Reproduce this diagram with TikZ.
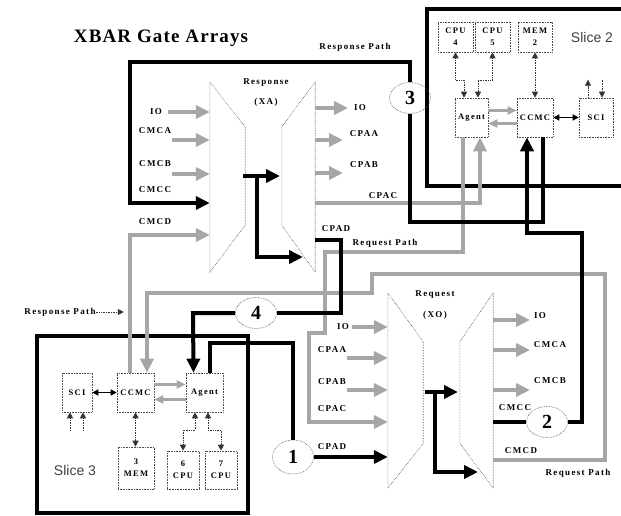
\documentclass[tikz,border=0pt]{standalone}
\usepackage{fontspec}
\setmainfont{Liberation Serif}
\newfontfamily\lblfont[LetterSpace=15]{Liberation Serif}
\newfontfamily\titlefont[LetterSpace=6]{Liberation Serif}
\newfontfamily\slicefont{Liberation Sans}
\usetikzlibrary{positioning,shapes.geometric,arrows.meta}

\begin{document}
\begin{tikzpicture}[x=1pt, y=-1pt, >={Triangle[length=6pt,width=6pt]},
    box/.style={draw=black!70, densely dotted, line width=0.6pt, minimum height=39pt,
                inner sep=0pt, align=center, font=\lblfont\bfseries\fontsize{8.5}{12}\selectfont},
    num/.style={ellipse, draw=black!70, densely dotted, line width=0.6pt, minimum width=41pt,
                minimum height=31pt, inner sep=0pt, font=\bfseries\fontsize{20}{20}\selectfont},
    lbl/.style={font=\lblfont\bfseries\fontsize{9}{9}\selectfont, inner sep=0pt},
    slc/.style={font=\slicefont\fontsize{14}{14}\selectfont, text=black!75},
    half/.style={inner sep=0pt, minimum height=190pt},
    dot/.style={draw=black!70, densely dotted, line width=0.6pt},
    darr/.style={draw=black!80, densely dotted, line width=0.7pt},
    gl/.style={draw=gray!70, line width=4.5pt},
    bl/.style={draw=black, line width=4pt},
    garr/.style={gl, -{Triangle[length=14pt,width=13pt]}},
    barr/.style={bl, -{Triangle[length=14pt,width=13pt]}},
    gsm/.style={draw=gray!70, line width=3pt, -{Triangle[length=9pt,width=8pt]}},
    sarr/.style={draw=black, line width=1.5pt, {Triangle[length=6pt,width=6pt]}-{Triangle[length=6pt,width=6pt]}}]
  \clip (0,0) rectangle (621,516);

  \node[font=\titlefont\bfseries\fontsize{19}{19}\selectfont] (ttl) at (161,38) {XBAR Gate Arrays};
  \node[lbl] (rsp) at (355,47) {Response Path};
  \node[lbl] (rq1) at (385,243) {Request Path};
  \node[lbl] (rq2) at (578,473) {Request Path};
  \node[lbl] (rsp2) at (60,312) {Response Path};

  % slices
  \draw[bl, line width=4.5pt] (427,9) rectangle (640,186);
  \draw[bl, line width=4.5pt] (37,336) rectangle (248,513);
  \node[slc] (s2) at (592,37) {Slice 2};
  \node[slc] (s3) at (75,470) {Slice 3};

  \node[box, minimum width=35pt, minimum height=30pt] (c4) at (455.5,37) {CPU\\4};
  \node[box, minimum width=35pt, minimum height=30pt] (c5) at (492.5,37) {CPU\\5};
  \node[box, minimum width=34pt, minimum height=30pt] (m2) at (535,37) {MEM\\2};
  \node[box, minimum width=33pt] (ag2) at (471.5,117.5) {Agent};
  \node[box, minimum width=36pt] (cc2) at (535,117.5) {CCMC};
  \node[box, minimum width=34pt] (sci2) at (596,117.5) {SCI};

  \node[box, minimum width=30pt] (sci3) at (77,392.5) {SCI};
  \node[box, minimum width=37pt] (cc3) at (135.5,392.5) {CCMC};
  \node[box, minimum width=37pt] (ag3) at (204.5,392.5) {Agent};
  \node[box, minimum width=36pt, minimum height=42pt] (m3) at (136,468) {3\\MEM};
  \node[box, minimum width=32pt, minimum height=38pt] (c6) at (183,470) {6\\CPU};
  \node[box, minimum width=32pt, minimum height=38pt] (c7) at (221,470) {7\\CPU};

  % gate arrays
  \node[half, minimum width=35pt] (xal) at (227.5,177) {};
  \node[half, minimum width=33pt] (xar) at (298.5,177) {};
  \node[half, minimum width=35pt, minimum height=195pt] (xol) at (405.5,390.5) {};
  \node[half, minimum width=33pt, minimum height=195pt] (xor) at (476.5,390.5) {};
  \draw[dot] (xal.north west) -- ([yshift=-45pt]xal.north east) -- ([yshift=47pt]xal.south east) -- (xal.south west) -- cycle;
  \draw[dot] (xar.north east) -- ([yshift=-45pt]xar.north west) -- ([yshift=47pt]xar.south west) -- (xar.south east) -- cycle;
  \draw[dot] (xol.north west) -- ([yshift=-49pt]xol.north east) -- ([yshift=45pt]xol.south east) -- (xol.south west) -- cycle;
  \draw[dot] (xor.north east) -- ([yshift=-49pt]xor.north west) -- ([yshift=45pt]xor.south west) -- (xor.south east) -- cycle;
  \node[lbl] (xan) at (266,83) {Response};
  \node[lbl] (xaid) at (266,102) {(XA)};
  \node[lbl] (xon) at (435,295) {Request};
  \node[lbl] (xoid) at (435,315) {(XO)};

  \node[lbl] (ia1) at (156,112) {IO};
  \node[lbl] (ia2) at (155,131) {CMCA};
  \node[lbl] (ia3) at (155,164) {CMCB};
  \node[lbl] (ia4) at (155,190) {CMCC};
  \node[lbl] (ia5) at (155,222) {CMCD};
  \node[lbl] (oa1) at (360,108) {IO};
  \node[lbl] (oa2) at (364,134) {CPAA};
  \node[lbl] (oa3) at (364,165) {CPAB};
  \node[lbl] (oa4) at (383,196) {CPAC};
  \node[lbl] (oa5) at (336,229) {CPAD};
  \node[lbl] (io1) at (343,327) {IO};
  \node[lbl] (io2) at (332,350) {CPAA};
  \node[lbl] (io3) at (332,382) {CPAB};
  \node[lbl] (io4) at (332,409) {CPAC};
  \node[lbl] (io5) at (332,447) {CPAD};
  \node[lbl] (oo1) at (540,316) {IO};
  \node[lbl] (oo2) at (550,345) {CMCA};
  \node[lbl] (oo3) at (550,381) {CMCB};
  \node[lbl] (oo4) at (515,408) {CMCC};
  \node[lbl] (oo5) at (521,451) {CMCD};

  \node[num] (three) at (410,98) {3};
  \node[num] (two) at (547,422) {2};
  \node[num] (four) at (256,313) {4};
  \node[num, minimum height=34pt] (one) at (293,457) {1};

  % short gray links
  \draw[garr] (168,112) -- (xal.west |- 0,112);
  \draw[garr] (172,140) -- (xal.west |- 0,140);
  \draw[garr] (172,174) -- (xal.west |- 0,174);
  \draw[garr] (xar.east |- 0,108) -- (348,108);
  \draw[garr] (xar.east |- 0,140) -- (343,140);
  \draw[garr] (xar.east |- 0,173) -- (343,173);
  \draw[garr] (352,327) -- (xol.west |- 0,327);
  \draw[garr] (347,358) -- (xol.west |- 0,358);
  \draw[garr] (347,390) -- (xol.west |- 0,390);
  \draw[garr] (xor.east |- 0,320) -- (530,320);
  \draw[garr] (xor.east |- 0,350) -- (530,350);
  \draw[garr] (xor.east |- 0,390) -- (530,390);

  % gray paths
  \draw[garr] (xar.east |- 0,203) -- (480,203) -- ([xshift=8.5pt]ag2.south);
  \draw[garr] ([xshift=-8.5pt]ag2.south) -- (463,252) -- (325,252) -- (325,333) -- (309,333) -- (309,422) -- (xol.west |- 0,422);
  \draw[garr] (xor.east |- 0,460) -- (605,460) -- (605,274) -- (372,274) -- (372,293) -- (147,293) -- ([xshift=11.5pt]cc3.north);
  \draw[garr] ([xshift=-5.5pt]cc3.north) -- (130,235) -- (xal.west |- 0,235);

  % black paths
  \draw[bl] ([xshift=8pt]cc2.south) -- (543,222) -- (410,222) -- (three);
  \draw[barr] (three) -- (410,62) -- (130,62) -- (130,203) -- (xal.west |- 0,203);
  \draw[bl] (xor.east |- 0,422) -- (two);
  \draw[barr] (two) -- (582,422) -- (582,233) -- (527,233) -- ([xshift=-8pt]cc2.south);
  \draw[bl] (xar.east |- 0,240) -- (341,240) -- (341,313) -- (four);
  \draw[barr] (four) -- (193,313) -- ([xshift=-11pt]ag3.north);
  \draw[bl] ([xshift=5pt]ag3.north) -- (209.5,343) -- (293,343) -- (one);
  \draw[barr] (one) -- (xol.west |- one);
  \draw[barr] (243,176) -- (280,176);
  \draw[barr] (257,176) -- (257,257) -- (303,257);
  \draw[barr] (425,392) -- (458,392);
  \draw[barr] (435,392) -- (435,472) -- (478,472);

  % inside the slices
  \draw[darr,<->] (c4.south) -- (455.5,80) -| ([xshift=-7.5pt]ag2.north);
  \draw[darr,<->] (c5.south) -- (492.5,80) -| ([xshift=6.5pt]ag2.north);
  \draw[darr,<->] (m2) -- (cc2);
  \draw[darr,->] ([xshift=-8pt]sci2.north) -- ++(0,-18);
  \draw[darr,<-] ([xshift=6pt]sci2.north) -- ++(0,-18);
  \draw[sarr] (cc2) -- (sci2);
  \draw[gsm] ([yshift=7pt]ag2.east) -- ([yshift=7pt]cc2.west);
  \draw[gsm] ([yshift=-6pt]cc2.west) -- ([yshift=-6pt]ag2.east);
  \draw[sarr] (sci3) -- (cc3);
  \draw[gsm] ([yshift=8pt]cc3.east) -- ([yshift=8pt]ag3.west);
  \draw[gsm] ([yshift=-7pt]ag3.west) -- ([yshift=-7pt]cc3.east);
  \draw[darr,<-] ([xshift=-7pt]sci3.south) -- ++(0,18);
  \draw[darr,<-] ([xshift=6pt]sci3.south) -- ++(0,18);
  \draw[darr,<->] (cc3.south) -- (cc3.south |- m3.north);
  \draw[darr,<->] ([xshift=-9.5pt]ag3.south) -- (195,430) -| (c6.north);
  \draw[darr,<->] ([xshift=3.5pt]ag3.south) -- (208,430) -| (c7.north);
  \draw[darr,->] (rsp2.east) -- ++(28,0);
\end{tikzpicture}
\end{document}
